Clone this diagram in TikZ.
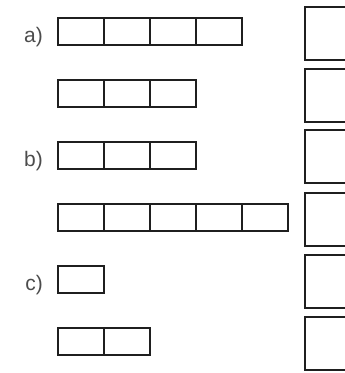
\documentclass[tikz,border=0pt]{standalone}
\usepackage{fontspec}
\setmainfont{Liberation Sans}
\begin{document}
\begin{tikzpicture}[x=1pt,y=-1pt,
  cell/.style={draw=black!88,line width=1.8pt,minimum width=46pt,minimum height=27pt,inner sep=0pt,outer sep=0pt,anchor=north west},
  bigbox/.style={draw=black!88,line width=2pt},
  lab/.style={text=black!70,font=\fontsize{21}{21}\selectfont,anchor=base east,inner sep=0pt}]
\useasboundingbox (0,0) rectangle (345,373);
\begin{scope}
\clip (0,0) rectangle (345,373);
\foreach \t [count=\i] in {7,69,130,193,255,317}
  \draw[bigbox] (360,\t) -- (305,\t) -- (305,\t+53) -- (360,\t+53);
\end{scope}
% rows: name/top/count
\foreach \r/\t/\n in {aone/18/4, atwo/80/3, bone/142/3, btwo/204/5, cone/266/1, ctwo/328/2}
  \foreach \k in {1,...,\n}
    \node[cell] (\r\k) at ({58+46*(\k-1)},\t) {};
\node[lab] (la) at (43,42) {a)};
\node[lab] (lb) at (43,166) {b)};
\node[lab] (lc) at (43,290) {c)};
\end{tikzpicture}
\end{document}
